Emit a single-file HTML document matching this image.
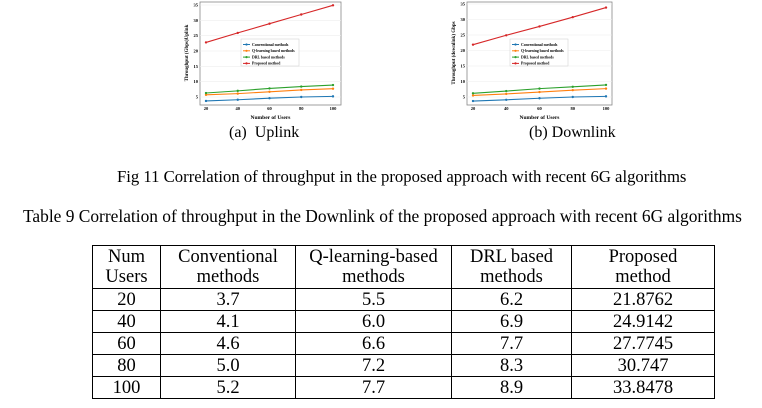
<!DOCTYPE html>
<html><head><meta charset="utf-8">
<style>
body{margin:0;width:762px;height:408px;background:#fff;position:relative;overflow:hidden;font-family:"Liberation Serif",serif;color:#000}
.t{position:absolute;white-space:nowrap;font-size:14.5px}
table{position:absolute;left:92px;top:245px;border-collapse:collapse;font-family:"Liberation Serif",serif;font-size:18.5px;line-height:20px;table-layout:fixed}
td{font-family:"Liberation Serif",serif;border:1px solid #000;text-align:center;padding:0;height:21px;overflow:hidden;white-space:nowrap}
tr.h td{height:42px}
</style></head><body>
<svg id="s" width="762" height="130" style="position:absolute;left:0;top:0"></svg>
<div class="t" style="left:229px;top:124px;font-size:16px">(a)&nbsp; Uplink</div>
<div class="t" style="left:529px;top:124px;font-size:16px">(b) Downlink</div>
<div class="t" style="left:117px;top:167px;font-size:16.7px">Fig 11 Correlation of throughput in the proposed approach with recent 6G algorithms</div>
<div class="t" style="left:23px;top:206px;font-size:17.4px">Table 9 Correlation of throughput in the Downlink of the proposed approach with recent 6G algorithms</div>
<table>
<colgroup><col style="width:68px"><col style="width:135px"><col style="width:156px"><col style="width:120px"><col style="width:143px"></colgroup>
<tr class="h"><td>Num<br>Users</td><td>Conventional<br>methods</td><td>Q-learning-based<br>methods</td><td>DRL based<br>methods</td><td>Proposed<br>method</td></tr>
<tr><td>20</td><td>3.7</td><td>5.5</td><td>6.2</td><td>21.8762</td></tr>
<tr><td>40</td><td>4.1</td><td>6.0</td><td>6.9</td><td>24.9142</td></tr>
<tr><td>60</td><td>4.6</td><td>6.6</td><td>7.7</td><td>27.7745</td></tr>
<tr><td>80</td><td>5.0</td><td>7.2</td><td>8.3</td><td>30.747</td></tr>
<tr><td>100</td><td>5.2</td><td>7.7</td><td>8.9</td><td>33.8478</td></tr>
</table>
<script>
var s='';
function chart(fx0,fx1,x20,x100,y35,y5,lx,ylab,data){
 var fy0=2,fy1=105;
 s+='<rect x="'+fx0+'" y="'+fy0+'" width="'+(fx1-fx0)+'" height="'+(fy1-fy0)+'" fill="#fff" stroke="#888" stroke-width="0.8"/>';
 var Y=function(v){return y5+(v-5)*(y35-y5)/30}, X=function(u){return x20+(u-20)*(x100-x20)/80};
 for(var v=5;v<=35;v+=5){s+='<line x1="'+fx0+'" x2="'+fx1+'" y1="'+Y(v)+'" y2="'+Y(v)+'" stroke="#eee" stroke-width="0.6"/><text x="'+(fx0-2)+'" y="'+(Y(v)+1.5)+'" font-size="4.5" text-anchor="end" font-weight="bold">'+v+'</text>';}
 for(var u=20;u<=100;u+=20){s+='<text x="'+X(u)+'" y="110" font-size="4.5" text-anchor="middle" font-weight="bold">'+u+'</text>';}
 s+='<text x="'+((fx0+fx1)/2)+'" y="119" font-size="5.5" text-anchor="middle" font-weight="bold">Number of Users</text>';
 s+='<text transform="translate('+(fx0-12)+',53) rotate(-90)" font-size="5" text-anchor="middle" font-weight="bold">'+ylab+'</text>';
 var cols=['#1f77b4','#ff7f0e','#2ca02c','#d62728'];
 for(var i=0;i<4;i++){var p='';for(var j=0;j<5;j++)p+=X(20+20*j)+','+Y(data[i][j])+' ';
  s+='<polyline points="'+p+'" fill="none" stroke="'+cols[i]+'" stroke-width="1.1"/>';
  for(var j=0;j<5;j++)s+='<circle cx="'+X(20+20*j)+'" cy="'+Y(data[i][j])+'" r="1.2" fill="'+cols[i]+'"/>';}
 var names=['Conventional methods','Q-learning based methods','DRL based methods','Proposed method'];
 s+='<rect x="'+lx+'" y="39" width="58" height="27" fill="#fff" stroke="#ccc" stroke-width="0.5"/>';
 for(var i=0;i<4;i++){var yy=44.5+i*6.3;s+='<line x1="'+(lx+2)+'" x2="'+(lx+9)+'" y1="'+yy+'" y2="'+yy+'" stroke="'+cols[i]+'" stroke-width="1"/><circle cx="'+(lx+5.5)+'" cy="'+yy+'" r="1.1" fill="'+cols[i]+'"/><text x="'+(lx+11)+'" y="'+(yy+1.3)+'" font-size="3.8" font-weight="bold">'+names[i]+'</text>';}
}
var up=[[3.7,4.1,4.6,5.0,5.2],[5.7,6.1,6.7,7.3,7.7],[6.3,7.0,7.8,8.4,8.9],[22.8,25.9,28.9,31.9,34.9]];
var dn=[[3.7,4.1,4.6,5.0,5.2],[5.5,6.0,6.6,7.2,7.7],[6.2,6.9,7.7,8.3,8.9],[21.88,24.91,27.77,30.75,33.85]];
chart(200,341,206,333,5,97,241,'Throughput (Gbps)Uplink',up);
chart(467,612,473,606,4,97,510,'Throughput (downlink) Gbps',dn);
document.getElementById('s').innerHTML=s;
</script>
</body></html>
